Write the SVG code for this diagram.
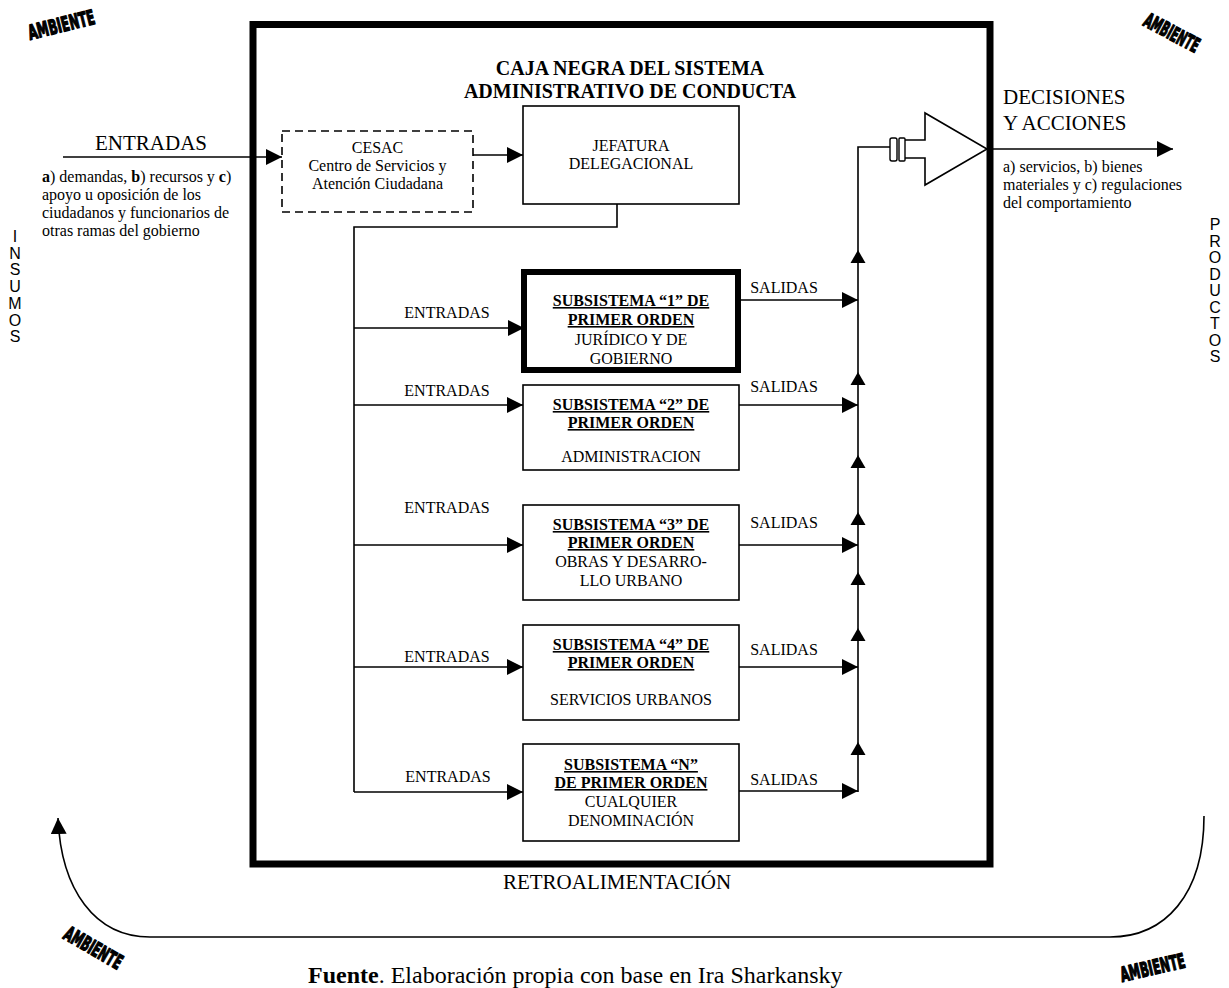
<svg xmlns="http://www.w3.org/2000/svg" width="1229" height="988" viewBox="0 0 1229 988">
  <style>
    .serif { font-family: 'Liberation Serif', 'Times New Roman', serif; fill: #000; }
    .sans { font-family: 'Liberation Sans', Arial, sans-serif; fill: #000; }
    .amb { font-family: 'DejaVu Sans Condensed', 'Liberation Sans Narrow', 'Liberation Sans', sans-serif; font-weight: bold; font-size: 17px; fill: #000; stroke: #000; stroke-width: 1.1; stroke-linejoin: round; }
    .box { fill: #fff; stroke: #000; stroke-width: 1.6; }
    .line { fill: none; stroke: #000; stroke-width: 1.6; }
    .arrow { fill: none; stroke: #000; stroke-width: 1.6; marker-end: url(#ah); }
    .small { font-size: 16px; }
    .big { font-size: 21px; }
    .b { font-weight: bold; }
    .u { text-decoration: underline; }
  </style>
  <defs>
    <marker id="ah" markerUnits="userSpaceOnUse" markerWidth="18" markerHeight="16" refX="16" refY="8" orient="auto">
      <path d="M0,0 L16,8 L0,16 z" fill="#000"/>
    </marker>
    <path id="up" d="M-7.5,13 L0,0 L7.5,13 z" fill="#000"/>
  </defs>

  <!-- environment labels -->
  <g id="ambiente">
    <text class="amb" transform="translate(30,40) rotate(-14) scale(1,1.2)" textLength="68" lengthAdjust="spacingAndGlyphs">AMBIENTE</text>
    <text class="amb" transform="translate(1142,25) rotate(28) scale(1,1.2)" textLength="60" lengthAdjust="spacingAndGlyphs">AMBIENTE</text>
    <text class="amb" transform="translate(62,938) rotate(30) scale(1,1.2)" textLength="64" lengthAdjust="spacingAndGlyphs">AMBIENTE</text>
    <text class="amb" transform="translate(1122,982) rotate(-13) scale(1,1.2)" textLength="66" lengthAdjust="spacingAndGlyphs">AMBIENTE</text>
  </g>

  <!-- black box frame -->
  <g id="caja-negra">
    <rect x="253" y="24.5" width="737" height="839.5" fill="none" stroke="#000" stroke-width="7"/>
    <text class="serif b" font-size="20" text-anchor="middle" x="630" y="75">CAJA NEGRA DEL SISTEMA</text>
    <text class="serif b" font-size="20" text-anchor="middle" x="630" y="98">ADMINISTRATIVO DE CONDUCTA</text>
  </g>

  <!-- inputs side -->
  <g id="insumos">
    <text class="serif big" text-anchor="middle" x="151" y="150">ENTRADAS</text>
    <text class="serif small" x="42" y="182"><tspan class="b">a</tspan>) demandas, <tspan class="b">b</tspan>) recursos y <tspan class="b">c</tspan>)</text>
    <text class="serif small" x="42" y="200">apoyo u oposición de los</text>
    <text class="serif small" x="42" y="218">ciudadanos y funcionarios de</text>
    <text class="serif small" x="42" y="236">otras ramas del gobierno</text>
    <text class="sans" font-size="16" text-anchor="middle">
      <tspan x="15" y="242">I</tspan><tspan x="15" y="258.7">N</tspan><tspan x="15" y="275.4">S</tspan><tspan x="15" y="292.1">U</tspan><tspan x="15" y="308.8">M</tspan><tspan x="15" y="325.5">O</tspan><tspan x="15" y="342.2">S</tspan>
    </text>
  </g>

  <!-- outputs side -->
  <g id="productos">
    <text class="serif big" x="1003" y="104">DECISIONES</text>
    <text class="serif big" x="1003" y="130">Y ACCIONES</text>
    <text class="serif small" x="1003" y="172">a) servicios, b) bienes</text>
    <text class="serif small" x="1003" y="190">materiales y c) regulaciones</text>
    <text class="serif small" x="1003" y="208">del comportamiento</text>
    <text class="sans" font-size="16" text-anchor="middle">
      <tspan x="1215" y="230">P</tspan><tspan x="1215" y="246.5">R</tspan><tspan x="1215" y="263">O</tspan><tspan x="1215" y="279.5">D</tspan><tspan x="1215" y="296">U</tspan><tspan x="1215" y="312.5">C</tspan><tspan x="1215" y="329">T</tspan><tspan x="1215" y="345.5">O</tspan><tspan x="1215" y="362">S</tspan>
    </text>
  </g>

  <g id="cesac">
    <rect x="282" y="131" width="191" height="81" fill="#fff" stroke="#000" stroke-width="1.6" stroke-dasharray="8,5"/>
    <text class="serif small" text-anchor="middle" x="377.5" y="153">CESAC</text>
    <text class="serif small" text-anchor="middle" x="377.5" y="171">Centro de Servicios y</text>
    <text class="serif small" text-anchor="middle" x="377.5" y="189">Atención Ciudadana</text>
  </g>

  <g id="jefatura">
    <rect class="box" x="523" y="106" width="216" height="98"/>
    <text class="serif small" text-anchor="middle" x="631" y="151">JEFATURA</text>
    <text class="serif small" text-anchor="middle" x="631" y="169">DELEGACIONAL</text>
  </g>

  <g id="subsistema-1">
    <rect x="524" y="272" width="214" height="98" fill="#fff" stroke="#000" stroke-width="6"/>
    <text class="serif small b u" text-anchor="middle" x="631" y="306">SUBSISTEMA “1” DE</text>
    <text class="serif small b u" text-anchor="middle" x="631" y="325">PRIMER ORDEN</text>
    <text class="serif small" text-anchor="middle" x="631" y="345">JURÍDICO Y DE</text>
    <text class="serif small" text-anchor="middle" x="631" y="364">GOBIERNO</text>
  </g>

  <g id="subsistema-2">
    <rect class="box" x="523" y="385" width="216" height="85"/>
    <text class="serif small b u" text-anchor="middle" x="631" y="410">SUBSISTEMA “2” DE</text>
    <text class="serif small b u" text-anchor="middle" x="631" y="428">PRIMER ORDEN</text>
    <text class="serif small" text-anchor="middle" x="631" y="462">ADMINISTRACION</text>
  </g>

  <g id="subsistema-3">
    <rect class="box" x="523" y="505" width="216" height="95"/>
    <text class="serif small b u" text-anchor="middle" x="631" y="530">SUBSISTEMA “3” DE</text>
    <text class="serif small b u" text-anchor="middle" x="631" y="548">PRIMER ORDEN</text>
    <text class="serif small" text-anchor="middle" x="631" y="567">OBRAS Y DESARRO-</text>
    <text class="serif small" text-anchor="middle" x="631" y="586">LLO URBANO</text>
  </g>

  <g id="subsistema-4">
    <rect class="box" x="523" y="625" width="216" height="95"/>
    <text class="serif small b u" text-anchor="middle" x="631" y="650">SUBSISTEMA “4” DE</text>
    <text class="serif small b u" text-anchor="middle" x="631" y="668">PRIMER ORDEN</text>
    <text class="serif small" text-anchor="middle" x="631" y="705">SERVICIOS URBANOS</text>
  </g>

  <g id="subsistema-n">
    <rect class="box" x="523" y="744" width="216" height="97"/>
    <text class="serif small b u" text-anchor="middle" x="631" y="770">SUBSISTEMA “N”</text>
    <text class="serif small b u" text-anchor="middle" x="631" y="788">DE PRIMER ORDEN</text>
    <text class="serif small" text-anchor="middle" x="631" y="807">CUALQUIER</text>
    <text class="serif small" text-anchor="middle" x="631" y="826">DENOMINACIÓN</text>
  </g>

  <!-- decision output device -->
  <g id="salida-decisiones">
    <rect x="890" y="138" width="7" height="23" rx="2" fill="#fff" stroke="#000" stroke-width="1.4"/>
    <rect x="899" y="138" width="6" height="23" rx="1" fill="#fff" stroke="#000" stroke-width="1.4"/>
    <path class="line" d="M905,140 H925 V113 L987,149 L925,185 V158 H905"/>
  </g>

  <g id="connectors">
    <!-- external input and output -->
    <line class="arrow" x1="63" y1="157" x2="282" y2="157"/>
    <line class="arrow" x1="990" y1="149" x2="1173" y2="149"/>
    <line class="arrow" x1="473" y1="155" x2="523" y2="155"/>
    <!-- distribution trunk -->
    <polyline class="line" points="617,204 617,227 354,227 354,792"/>
    <line class="arrow" x1="354" y1="328" x2="524" y2="328"/>
    <line class="arrow" x1="354" y1="405" x2="523" y2="405"/>
    <line class="arrow" x1="354" y1="545" x2="523" y2="545"/>
    <line class="arrow" x1="354" y1="667" x2="523" y2="667"/>
    <line class="arrow" x1="354" y1="792" x2="523" y2="792"/>
    <!-- outputs to the collector -->
    <line class="arrow" x1="738" y1="300" x2="858" y2="300"/>
    <line class="arrow" x1="739" y1="405" x2="858" y2="405"/>
    <line class="arrow" x1="739" y1="545" x2="858" y2="545"/>
    <line class="arrow" x1="739" y1="667" x2="858" y2="667"/>
    <line class="arrow" x1="739" y1="791" x2="858" y2="791"/>
    <polyline class="line" points="858,792 858,147 890,147"/>
    <use href="#up" x="858" y="250"/>
    <use href="#up" x="858" y="372"/>
    <use href="#up" x="858" y="455"/>
    <use href="#up" x="858" y="512"/>
    <use href="#up" x="858" y="572"/>
    <use href="#up" x="858" y="628"/>
    <use href="#up" x="858" y="742"/>
    <!-- feedback loop -->
    <path class="line" d="M1204,816 C1204,895 1165,937 1110,937 H150 C95,937 61,890 58,818" marker-end="url(#ah)"/>
  </g>

  <g id="etiquetas">
    <text class="serif small" text-anchor="middle" x="447" y="318">ENTRADAS</text>
    <text class="serif small" text-anchor="middle" x="447" y="396">ENTRADAS</text>
    <text class="serif small" text-anchor="middle" x="447" y="513">ENTRADAS</text>
    <text class="serif small" text-anchor="middle" x="447" y="662">ENTRADAS</text>
    <text class="serif small" text-anchor="middle" x="448" y="782">ENTRADAS</text>
    <text class="serif small" text-anchor="middle" x="784" y="293">SALIDAS</text>
    <text class="serif small" text-anchor="middle" x="784" y="392">SALIDAS</text>
    <text class="serif small" text-anchor="middle" x="784" y="528">SALIDAS</text>
    <text class="serif small" text-anchor="middle" x="784" y="655">SALIDAS</text>
    <text class="serif small" text-anchor="middle" x="784" y="785">SALIDAS</text>
    <text class="serif big" text-anchor="middle" x="617" y="889">RETROALIMENTACIÓN</text>
    <text class="serif" font-size="24" x="308" y="983"><tspan class="b">Fuente</tspan>. Elaboración propia con base en Ira Sharkansky</text>
  </g>
</svg>
